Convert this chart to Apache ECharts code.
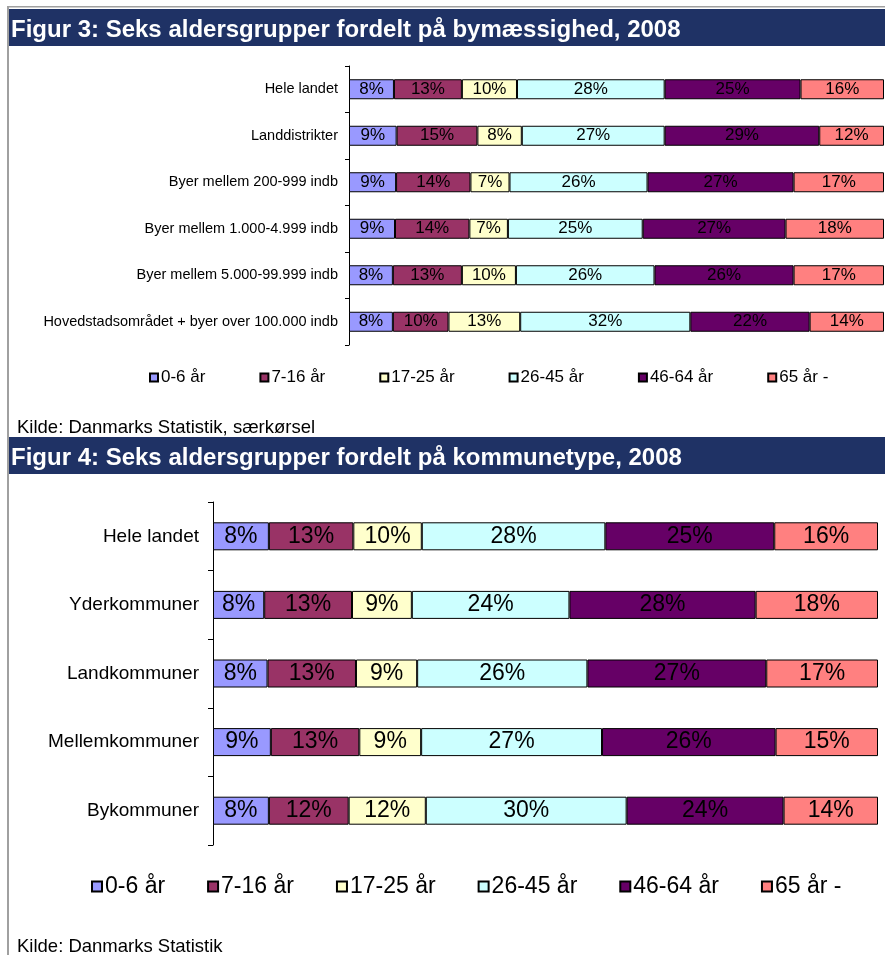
<!DOCTYPE html>
<html>
<head>
<meta charset="utf-8">
<script src="https://cdn.jsdelivr.net/npm/echarts@6.0.0/dist/echarts.min.js"></script>
<style>
  html, body { margin: 0; padding: 0; background: #fff; }
  #main { width: 885px; height: 955px; }
</style>
</head>
<body>
<div id="main"></div>
<script>
// aldersgrupper (serier)
var ageGroups = ['0-6 år', '7-16 år', '17-25 år', '26-45 år', '46-64 år', '65 år -'];
var groupColors = ['#9999FF', '#993366', '#FFFFCC', '#CCFFFF', '#660066', '#FF8080'];

// Figur 3 - bymæssighed
var cats3 = ['Hele landet', 'Landdistrikter', 'Byer mellem 200-999 indb', 'Byer mellem 1.000-4.999 indb',
  'Byer mellem 5.000-99.999 indb', 'Hovedstadsområdet + byer over 100.000 indb'];
var f3_0_6   = [8.4, 8.9, 8.8, 8.6, 8.2, 8.2];
var f3_7_16  = [12.7, 15.1, 13.9, 13.9, 12.9, 10.4];
var f3_17_25 = [10.3, 8.3, 7.3, 7.2, 10.1, 13.4];
var f3_26_45 = [27.6, 26.7, 25.8, 25.2, 25.9, 31.8];
var f3_46_64 = [25.4, 28.9, 27.3, 26.7, 26.0, 22.3];
var f3_65    = [15.6, 12.1, 16.9, 18.4, 16.9, 13.9];

// Figur 4 - kommunetype
var cats4 = ['Hele landet', 'Yderkommuner', 'Landkommuner', 'Mellemkommuner', 'Bykommuner'];
var f4_0_6   = [8.4, 7.7, 8.2, 8.7, 8.4];
var f4_7_16  = [12.7, 13.2, 13.3, 13.3, 12.0];
var f4_17_25 = [10.3, 9.0, 9.2, 9.3, 11.6];
var f4_26_45 = [27.6, 23.7, 25.6, 27.2, 30.2];
var f4_46_64 = [25.4, 28.0, 26.9, 26.1, 23.6];
var f4_65    = [15.6, 18.4, 16.8, 15.4, 14.2];

var fig3Data = [f3_0_6, f3_7_16, f3_17_25, f3_26_45, f3_46_64, f3_65];
var fig4Data = [f4_0_6, f4_7_16, f4_17_25, f4_26_45, f4_46_64, f4_65];

var FONT = '"Liberation Sans", Arial, sans-serif';

function makeSeries(dataList, idx, barW, fs) {
    var out = [];
    for (var i = 0; i < dataList.length; i++) {
        out.push({
            name: ageGroups[i],
            type: 'bar',
            stack: 'fig' + idx,
            xAxisIndex: idx,
            yAxisIndex: idx,
            barWidth: barW,
            data: dataList[i],
            itemStyle: { color: groupColors[i], borderColor: '#000', borderWidth: 1 },
            label: {
                show: true,
                position: 'inside',
                color: '#000',
                fontSize: fs,
                fontFamily: FONT,
                formatter: function (p) { return Math.round(p.value) + '%'; }
            },
            emphasis: { disabled: true }
        });
    }
    return out;
}

var myChart = echarts.init(document.getElementById('main'), null, { renderer: 'canvas' });

var option = {
    animation: false,
    backgroundColor: '#fff',
    textStyle: { fontFamily: FONT },
    grid: [
        { left: 349, top: 66, right: 1, height: 279 },
        { left: 213, top: 502, right: 7, height: 343 }
    ],
    xAxis: [
        { gridIndex: 0, type: 'value', min: 0, max: 100, show: false },
        { gridIndex: 1, type: 'value', min: 0, max: 100, show: false }
    ],
    yAxis: [
        {
            gridIndex: 0, type: 'category', inverse: true, data: cats3,
            axisLine: { show: true, lineStyle: { color: '#000', width: 1 } },
            axisTick: { show: true, inside: false, length: 4, lineStyle: { color: '#000', width: 1 } },
            axisLabel: { color: '#000', fontSize: 14.5, fontFamily: FONT, margin: 11 }
        },
        {
            gridIndex: 1, type: 'category', inverse: true, data: cats4,
            axisLine: { show: true, lineStyle: { color: '#000', width: 1 } },
            axisTick: { show: true, inside: false, length: 5, lineStyle: { color: '#000', width: 1 } },
            axisLabel: { color: '#000', fontSize: 19, fontFamily: FONT, margin: 14 }
        }
    ],
    legend: [
        {
            data: ageGroups, left: 144, top: 364, icon: 'rect',
            itemWidth: 8, itemHeight: 8, itemGap: 54,
            selectedMode: false,
            textStyle: { color: '#000', fontSize: 17, fontFamily: FONT, padding: [0, 0, 0, -2] }
        },
        {
            data: ageGroups, left: 86, top: 870, icon: 'rect',
            itemWidth: 10, itemHeight: 10, itemGap: 42,
            selectedMode: false,
            textStyle: { color: '#000', fontSize: 23, fontFamily: FONT, padding: [0, 0, 0, -2] }
        }
    ],
    graphic: [
        // ramme
        { type: 'rect', shape: { x: 7, y: 6, width: 878, height: 1.5 }, style: { fill: '#a0a0a0' }, silent: true },
        { type: 'rect', shape: { x: 7, y: 6, width: 2, height: 949 }, style: { fill: '#a0a0a0' }, silent: true },
        // titelbjælker
        { type: 'rect', shape: { x: 9, y: 9, width: 876, height: 37 }, style: { fill: '#1f3265' }, silent: true },
        {
            type: 'text', x: 11, y: 30, silent: true,
            style: { text: 'Figur 3: Seks aldersgrupper fordelt på bymæssighed, 2008', fill: '#fff',
                fontSize: 24, fontWeight: 'bold', fontFamily: FONT, verticalAlign: 'middle' }
        },
        { type: 'rect', shape: { x: 9, y: 437, width: 876, height: 37 }, style: { fill: '#1f3265' }, silent: true },
        {
            type: 'text', x: 11, y: 458, silent: true,
            style: { text: 'Figur 4: Seks aldersgrupper fordelt på kommunetype, 2008', fill: '#fff',
                fontSize: 24, fontWeight: 'bold', fontFamily: FONT, verticalAlign: 'middle' }
        },
        // kilder
        {
            type: 'text', x: 17, y: 428, silent: true,
            style: { text: 'Kilde: Danmarks Statistik, særkørsel', fill: '#000', fontSize: 18.5,
                fontFamily: FONT, verticalAlign: 'middle' }
        },
        {
            type: 'text', x: 17, y: 947, silent: true,
            style: { text: 'Kilde: Danmarks Statistik', fill: '#000', fontSize: 18.5,
                fontFamily: FONT, verticalAlign: 'middle' }
        }
    ],
    series: makeSeries(fig3Data, 0, 20, 17).concat(makeSeries(fig4Data, 1, 28, 23))
};

myChart.setOption(option);
</script>
</body>
</html>
